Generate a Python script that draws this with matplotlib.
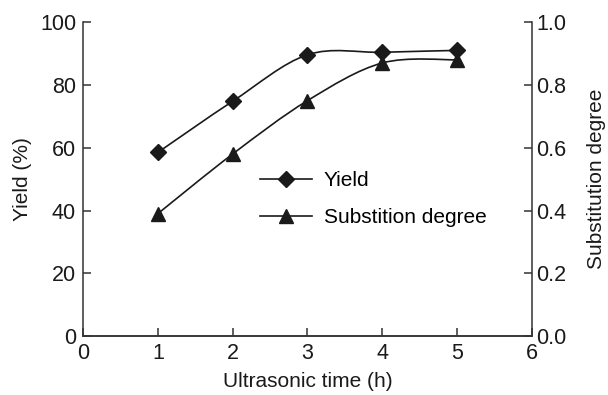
import matplotlib.pyplot as plt
from matplotlib.path import Path
from matplotlib.patches import PathPatch
from matplotlib.lines import Line2D

plt.rcParams['font.family'] = ['Liberation Sans', 'DejaVu Sans']

time_h = [1, 2, 3, 4, 5]
yield_pct = [58.5, 74.8, 89.6, 90.4, 91.0]
subst_degree = [0.39, 0.58, 0.75, 0.87, 0.88]


def smooth_path(xs, ys):
    """Catmull-Rom curve through the points, as cubic Bezier segments."""
    pts = list(zip(xs, ys))
    verts = [pts[0]]
    codes = [Path.MOVETO]
    n = len(pts)
    for i in range(n - 1):
        p0 = pts[max(i - 1, 0)]
        p1 = pts[i]
        p2 = pts[i + 1]
        p3 = pts[min(i + 2, n - 1)]
        c1 = (p1[0] + (p2[0] - p0[0]) / 6, p1[1] + (p2[1] - p0[1]) / 6)
        c2 = (p2[0] - (p3[0] - p1[0]) / 6, p2[1] - (p3[1] - p1[1]) / 6)
        verts += [c1, c2, p2]
        codes += [Path.CURVE4] * 3
    return Path(verts, codes)


fig = plt.figure(figsize=(6.08, 3.95), dpi=100)
ax = fig.add_axes([0.1365, 0.149, 0.7385, 0.795])
ax2 = ax.twinx()

fs = 15
tfs = 15.5
lw = 1.2
col = '#1a1a1a'

ax.add_patch(PathPatch(smooth_path(time_h, yield_pct), fill=False, lw=lw, ec=col))
ax.plot(time_h, yield_pct, ls='none', marker='D', ms=8, color=col)
ax2.add_patch(PathPatch(smooth_path(time_h, subst_degree), fill=False, lw=lw, ec=col))
ax2.plot(time_h, subst_degree, ls='none', marker='^', ms=10, color=col)

ax.set_xlim(0, 6)
ax.set_ylim(0, 100)
ax2.set_ylim(0, 1.0)
ax.set_xticks(range(0, 7))
ax.set_yticks(range(0, 101, 20))
ax2.set_yticks([0.0, 0.2, 0.4, 0.6, 0.8, 1.0])
ax2.set_yticklabels(['0.0', '0.2', '0.4', '0.6', '0.8', '1.0'])

for a in (ax, ax2):
    a.spines['top'].set_visible(False)
    for s in a.spines.values():
        s.set_linewidth(1.1)
        s.set_color('#333333')
    a.tick_params(direction='in', length=6, width=1.1, color='#333333',
                  labelsize=tfs, labelcolor=col)
ax.spines['right'].set_visible(False)
ax2.spines['left'].set_visible(False)
ax.tick_params(axis='x', pad=5)
ax.tick_params(axis='y', pad=5)
ax2.tick_params(axis='y', pad=3)

ax.set_xlabel('Ultrasonic time (h)', fontsize=fs, color=col, labelpad=6)
ax.set_ylabel('Yield (%)', fontsize=fs, color=col, labelpad=6)
ax2.set_ylabel('Substitution degree', fontsize=fs, color=col, labelpad=15)

handles = [
    Line2D([], [], color=col, lw=lw, marker='D', ms=8),
    Line2D([], [], color=col, lw=lw, marker='^', ms=10),
]
fig.legend(handles, ['Yield', 'Substition degree'], loc='center left',
           bbox_to_anchor=(260 / 608, 1 - 199 / 395), frameon=False,
           fontsize=fs, handlelength=2.5, handletextpad=0.55,
           labelspacing=0.85, borderpad=0, borderaxespad=0)

fig.savefig('out.png', dpi=100)
